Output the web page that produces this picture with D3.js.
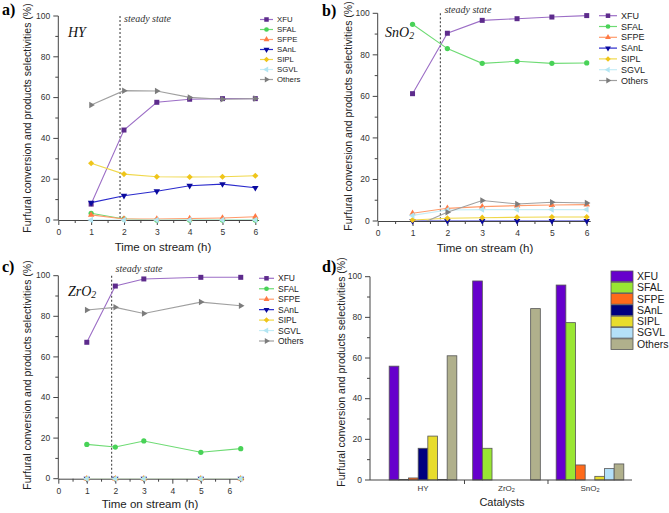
<!DOCTYPE html>
<html><head><meta charset="utf-8">
<script src="https://cdn.jsdelivr.net/npm/d3@7"></script>
<style>body{margin:0;background:#fff} svg{display:block}</style>
</head><body><svg id="chart" width="669" height="513"></svg>
<script>
// ---------------- DATA ----------------
const seriesNames = ["XFU","SFAL","SFPE","SAnL","SIPL","SGVL","Others"];
const yTicks = [0,20,40,60,80,100];
const xTicksTime = [0,1,2,3,4,5,6];

// a) HY
const timeHY = [1,2,3,4,5,6];
const hyXFU    = [7.8, 44.1, 57.7, 59.2, 59.5, 59.5];
const hySFAL   = [3.3, 0.5, 0, 0, 0, 0];
const hySFPE   = [2.5, 0.5, 0.5, 0.7, 1.0, 1.6];
const hySAnL   = [8.5, 11.9, 14.1, 16.8, 17.6, 15.8];
const hySIPL   = [27.8, 22.5, 21.2, 21.1, 21.2, 21.7];
const hySGVL   = [0, 0, 0, 0, 0, 0];
const hyOthers = [56.4, 63.4, 63.2, 60.1, 59.2, 59.5];

// b) SnO2
const timeSn = [1,2,3,4,5,6];
const snXFU    = [61.3, 90.4, 96.6, 97.4, 98.2, 98.9];
const snSFAL   = [94.7, 83.0, 75.9, 76.9, 75.9, 76.1];
const snSFPE   = [3.7, 6.1, 6.9, 7.4, 7.7, 7.9];
const snSAnL   = [0, 0, 0, 0, 0, 0];
const snSIPL   = [0.5, 1.3, 1.6, 1.8, 1.9, 1.9];
const snSGVL   = [2.7, 5.3, 5.5, 5.5, 5.5, 5.5];
const snOthers = [-3, 4.2, 9.9, 8.2, 9.0, 8.7];

// c) ZrO2
const timeZr = [1,2,3,5,6.4];
const zrXFU    = [67.2, 94.9, 98.4, 99.2, 99.2];
const zrSFAL   = [16.9, 15.6, 18.6, 13.0, 14.8];
const zrSFPE   = [0, 0, 0, 0, 0];
const zrSAnL   = [0, 0, 0, 0, 0];
const zrSIPL   = [0, 0, 0, 0, 0];
const zrSGVL   = [0, 0, 0, 0, 0];
const zrOthers = [83.1, 84.4, 81.4, 87.0, 85.2];

// d) bars
const barCats   = ["HY","ZrO2","SnO2"];
const barXFU    = [56.0, 97.9, 95.9];
const barSFAL   = [0.3, 15.6, 77.4];
const barSFPE   = [1.0, 0, 7.4];
const barSAnL   = [15.6, 0, 0];
const barSIPL   = [21.6, 0, 1.8];
const barSGVL   = [0.3, 0, 5.6];
const barOthers = [61.1, 84.3, 7.9];

// ---------------- STYLE ----------------
const SANS = "'Liberation Sans', Arial, sans-serif";
const SERIF = "'Liberation Serif', 'Times New Roman', serif";
const AX = "#444";
const lineColors = ["#9c6ec6","#6edb74","#ff9b6b","#2b2bcc","#f0d84a","#c6edf6","#a0a0a0"];
const markColors = ["#5d2b8c","#48d257","#ff7a45","#0a0a9e","#efc51a","#b2e5f2","#7c7c7c"];
const barColors  = ["#6600cc","#99e633","#ff6a1a","#00007f","#e8dc2c","#b4e0f8","#b0b08c"];
const intFmt = d3.format("d");

const svg = d3.select("#chart");
const defs = svg.append("defs");

function marker(g, kind, cx, cy, color, s) {
  let type, area, rot = 0;
  if (kind === 0) { type = d3.symbolSquare; area = s*s; }
  else if (kind === 1) { type = d3.symbolCircle; area = Math.PI*(s/2)*(s/2)*1.1; }
  else if (kind === 4) { type = d3.symbolSquare; area = s*s*0.75; rot = 45; }
  else {
    type = d3.symbolTriangle; area = 0.433*(s*1.3)*(s*1.3);
    rot = kind === 2 ? 0 : kind === 3 ? 180 : kind === 5 ? -90 : 90;
  }
  g.append("path").attr("d", d3.symbol().type(type).size(area)())
    .attr("transform", `translate(${cx},${cy}) rotate(${rot})`)
    .attr("fill", color);
}

function subText(sel, label) {
  const m = label.match(/^(.*?)(\d)$/);
  if (m) {
    sel.append("tspan").text(m[1]);
    sel.append("tspan").attr("font-size", "0.7em").attr("dy", "0.25em").text(m[2]);
  } else sel.text(label);
}

function styleAxis(g, fs) {
  g.attr("font-family", SANS).attr("font-size", fs);
  g.selectAll("path.domain").attr("stroke", AX);
  g.selectAll(".tick line").attr("stroke", AX);
  g.selectAll(".tick text").attr("fill", "#333");
}

function yTitle(cx, cy, fs) {
  svg.append("text").attr("transform", `translate(${cx},${cy}) rotate(-90)`)
    .attr("text-anchor", "middle").attr("dy", "0.35em")
    .attr("font-family", SANS).attr("font-size", fs).attr("fill", "#222")
    .text("Furfural conversion and products selectivities (%)");
}

function panelLabel(x, y, t) {
  svg.append("text").attr("x", x).attr("y", y).attr("font-family", SERIF)
    .attr("font-weight", "bold").attr("font-size", 16).attr("fill", "#000").text(t);
}

// y axis drawn from the scale: line, major ticks with labels, minor ticks
function yAxisWithMinor(g, y, axX) {
  const ga = g.append("g");
  ga.append("line").attr("x1", axX).attr("x2", axX).attr("y1", y(0)).attr("y2", y(100))
    .attr("stroke", AX).attr("stroke-width", 1);
  yTicks.forEach(v => {
    ga.append("line").attr("x1", axX - 5).attr("x2", axX).attr("y1", y(v)).attr("y2", y(v))
      .attr("stroke", AX).attr("stroke-width", 1);
    ga.append("text").attr("x", axX - 8).attr("y", y(v)).attr("dy", "0.32em")
      .attr("text-anchor", "end").attr("font-family", SANS).attr("font-size", 8.5)
      .attr("fill", "#333").text(intFmt(v));
  });
  [10,30,50,70,90].forEach(v => {
    ga.append("line").attr("x1", axX - 3).attr("x2", axX).attr("y1", y(v)).attr("y2", y(v))
      .attr("stroke", AX).attr("stroke-width", 1);
  });
}

function linePanel(p) {
  const x = d3.scaleLinear().domain(p.xDomain).range([p.left, p.right]);
  const y = d3.scaleLinear().domain([0, 100]).range([p.bottom, p.top]);
  const g = svg.append("g");
  const clipId = "lineclip-" + p.key;
  defs.append("clipPath").attr("id", clipId).append("rect")
    .attr("x", p.left).attr("y", p.top - 8).attr("width", p.right - p.left + 12)
    .attr("height", p.bottom - p.top + 8);

  // axes
  yAxisWithMinor(g, y, p.left);
  const xa = g.append("g").attr("transform", `translate(0,${p.bottom})`)
    .call(d3.axisBottom(x).tickValues(xTicksTime).tickFormat(intFmt).tickSize(5).tickSizeOuter(0).tickPadding(4));
  styleAxis(xa, 8.5);
  g.append("g").attr("transform", `translate(0,${p.bottom})`)
    .call(d3.axisBottom(x).tickValues(d3.range(0.5, p.xDomain[1], 1)).tickSize(3).tickFormat(""))
    .call(s => { s.select(".domain").remove(); s.selectAll("line").attr("stroke", AX); });

  // steady state line
  g.append("line").attr("x1", x(p.steady)).attr("x2", x(p.steady))
    .attr("y1", y(100)).attr("y2", y(0)).attr("stroke", "#555")
    .attr("stroke-width", 1.2).attr("stroke-dasharray", "2,2");
  g.append("text").attr("x", x(p.steady) + 4).attr("y", p.ssY)
    .attr("font-family", SERIF).attr("font-style", "italic").attr("font-size", 10)
    .attr("fill", "#333").text("steady state");

  // series
  const line = d3.line().x(d => x(d[0])).y(d => y(d[1]));
  p.series.forEach((vals, i) => {
    const pts = p.time.map((t, k) => [t, vals[k]]);
    g.append("path").datum(pts).attr("d", line).attr("fill", "none")
      .attr("stroke", lineColors[i]).attr("stroke-width", 1.1)
      .attr("clip-path", `url(#${clipId})`);
    pts.forEach(d => { if (d[1] >= 0) marker(g, i, x(d[0]), y(d[1]), markColors[i], p.ms); });
  });

  // legend
  seriesNames.forEach((n, i) => {
    const ly = p.legY + i * p.legStep;
    g.append("line").attr("x1", p.legX).attr("x2", p.legX + p.legW).attr("y1", ly).attr("y2", ly)
      .attr("stroke", lineColors[i]).attr("stroke-width", 1.2);
    marker(g, i, p.legX + p.legW / 2, ly, markColors[i], p.ms * 0.9);
    g.append("text").attr("x", p.legX + p.legW + 4).attr("y", ly).attr("dy", "0.35em")
      .attr("font-family", SANS).attr("font-size", p.legFs).attr("fill", "#222").text(n);
  });

  // catalyst name
  const ct = g.append("text").attr("x", p.nameX).attr("y", p.nameY)
    .attr("font-family", SERIF).attr("font-style", "italic").attr("font-size", 14).attr("fill", "#111");
  subText(ct, p.name);

  // x title
  g.append("text").attr("x", p.xtX).attr("y", p.xtY).attr("text-anchor", "middle")
    .attr("font-family", SANS).attr("font-size", 11.5).attr("fill", "#222").text("Time on stream (h)");
}

// a) HY
linePanel({ key: "a", xDomain: [0, 6.1], left: 58.3, right: 258.6, top: 16, bottom: 220,
  time: timeHY, series: [hyXFU, hySFAL, hySFPE, hySAnL, hySIPL, hySGVL, hyOthers],
  steady: 1.88, ssY: 22, legX: 260, legW: 13, legY: 19.5, legStep: 10, legFs: 7.8, ms: 5,
  name: "HY", nameX: 68, nameY: 37, xtX: 163, xtY: 251 });
yTitle(27, 118, 10.5);
panelLabel(2, 15, "a)");

// b) SnO2
linePanel({ key: "b", xDomain: [0, 6.1], left: 377.7, right: 590.2, top: 13.3, bottom: 221,
  time: timeSn, series: [snXFU, snSFAL, snSFPE, snSAnL, snSIPL, snSGVL, snOthers],
  steady: 1.8, ssY: 13, legX: 599, legW: 18, legY: 15.7, legStep: 10.8, legFs: 9, ms: 5,
  name: "SnO2", nameX: 385, nameY: 37, xtX: 485, xtY: 252 });
yTitle(348, 116, 10.5);
panelLabel(322, 16, "b)");

// c) ZrO2
linePanel({ key: "c", xDomain: [0, 6.5], left: 58.3, right: 243.6, top: 275.7, bottom: 478.7,
  time: timeZr, series: [zrXFU, zrSFAL, zrSFPE, zrSAnL, zrSIPL, zrSGVL, zrOthers],
  steady: 1.87, ssY: 272, legX: 259, legW: 15, legY: 278.3, legStep: 10.45, legFs: 8.5, ms: 5,
  name: "ZrO2", nameX: 68, nameY: 296, xtX: 150, xtY: 508 });
yTitle(27, 375, 10.5);
panelLabel(2, 272, "c)");

// d) bars
const gd = svg.append("g");
const dTop = 276.7, dBottom = 480, dAxX = 370;
const yBar = d3.scaleLinear().domain([0, 100]).range([dBottom, dTop]);
const xCat = d3.scaleBand().domain(barCats).range([381, 632]).paddingInner(0.19).paddingOuter(0.098);
const xSer = d3.scaleBand().domain(seriesNames).range([0, xCat.bandwidth()]);
const barSeries = [barXFU, barSFAL, barSFPE, barSAnL, barSIPL, barSGVL, barOthers];

barSeries.forEach((vals, i) => {
  barCats.forEach((c, k) => {
    gd.append("rect")
      .attr("x", xCat(c) + xSer(seriesNames[i]))
      .attr("width", xSer.bandwidth())
      .attr("y", yBar(vals[k]))
      .attr("height", dBottom - yBar(vals[k]))
      .attr("fill", barColors[i]).attr("stroke", "#555").attr("stroke-width", 0.8);
  });
});
gd.append("line").attr("x1", dAxX).attr("x2", 632).attr("y1", dBottom).attr("y2", dBottom).attr("stroke", AX);
[1, 2].forEach(k => {
  const bx = 381 + xCat.step() * k;
  gd.append("line").attr("x1", bx).attr("x2", bx).attr("y1", dBottom).attr("y2", dBottom + 4).attr("stroke", AX);
});
barCats.forEach(c => {
  const t = gd.append("text").attr("x", xCat(c) + xCat.bandwidth() / 2).attr("y", 491)
    .attr("text-anchor", "middle").attr("font-family", SANS).attr("font-size", 8).attr("fill", "#333");
  subText(t, c);
});
gd.append("text").attr("x", 502).attr("y", 506).attr("text-anchor", "middle")
  .attr("font-family", SANS).attr("font-size", 11).attr("fill", "#222").text("Catalysts");
seriesNames.forEach((n, i) => {
  const ly = 276.3 + i * 11.3;
  gd.append("rect").attr("x", 611).attr("y", ly - 5.3).attr("width", 22).attr("height", 10.6)
    .attr("fill", barColors[i]).attr("stroke", "#555").attr("stroke-width", 0.8);
  gd.append("text").attr("x", 637).attr("y", ly).attr("dy", "0.35em")
    .attr("font-family", SANS).attr("font-size", 10.5).attr("fill", "#222").text(n);
});
yTitle(341, 372, 10.5);
panelLabel(322, 272, "d)");
// y axis of d drawn last, on top of everything
yAxisWithMinor(svg, yBar, dAxX);
</script></body></html>
